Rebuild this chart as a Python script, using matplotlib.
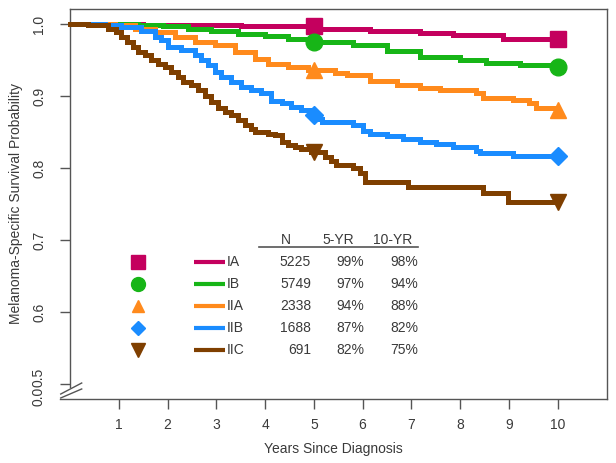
import numpy as np
import matplotlib
matplotlib.use("Agg")
import matplotlib.pyplot as plt
from matplotlib.lines import Line2D

plt.rcParams['font.family'] = ['Liberation Sans', 'DejaVu Sans']

# ---------------- data ----------------
stages = ["IA", "IB", "IIA", "IIB", "IIC"]
n_patients = [5225, 5749, 2338, 1688, 691]
surv_5yr = ["99%", "97%", "94%", "87%", "82%"]
surv_10yr = ["98%", "94%", "88%", "82%", "75%"]

t_IA = [0, 1.5, 2.5, 3.5, 4.3, 5.12, 6.15, 7.17, 7.85, 8.88, 10.0]
s_IA = [1.0, 0.9995, 0.999, 0.998, 0.997, 0.994, 0.991, 0.988, 0.985, 0.979, 0.979]

t_IB = [0, 1.39, 1.9, 2.42, 2.9, 3.45, 4.0, 4.47, 4.95, 5.8, 6.49, 7.17, 7.99, 8.53, 9.22, 9.9, 10.0]
s_IB = [1.0, 0.9995, 0.997, 0.994, 0.991, 0.987, 0.984, 0.980, 0.975, 0.971, 0.963, 0.955,
        0.950, 0.946, 0.944, 0.942, 0.940]

t_IIA = [0, 0.92, 1.33, 1.74, 2.15, 2.56, 2.97, 3.38, 3.79, 4.06, 4.47, 4.88, 5.43, 5.67, 6.15,
         6.70, 7.17, 7.58, 8.33, 8.47, 9.08, 9.42, 9.56, 10.0]
s_IIA = [1.0, 0.999, 0.994, 0.989, 0.982, 0.975, 0.971, 0.962, 0.952, 0.945, 0.941, 0.936,
         0.932, 0.929, 0.921, 0.915, 0.911, 0.908, 0.904, 0.898, 0.895, 0.890, 0.884, 0.881]

t_IIB = [0, 0.71, 1.05, 1.46, 1.74, 1.87, 2.01, 2.28, 2.56, 2.69, 2.83, 2.97, 3.10, 3.31, 3.51,
         3.72, 3.92, 4.13, 4.34, 4.54, 4.74, 4.95, 5.09, 5.16, 5.80, 6.01, 6.15, 6.49, 6.83, 7.17,
         7.51, 7.85, 8.33, 8.40, 9.08, 10.0]
s_IIB = [1.0, 0.999, 0.996, 0.991, 0.982, 0.978, 0.968, 0.964, 0.957, 0.950, 0.943, 0.934,
         0.927, 0.920, 0.913, 0.908, 0.904, 0.894, 0.890, 0.885, 0.881, 0.874, 0.869, 0.864,
         0.860, 0.851, 0.848, 0.845, 0.840, 0.836, 0.833, 0.830, 0.824, 0.821, 0.817, 0.817]

t_IIC = [0, 0.37, 0.78, 0.95, 1.05, 1.16, 1.29, 1.39, 1.53, 1.67, 1.80, 1.94, 2.08, 2.21, 2.32,
         2.49, 2.63, 2.76, 2.90, 3.03, 3.17, 3.31, 3.45, 3.58, 3.72, 3.79, 4.06, 4.20, 4.34, 4.47,
         4.61, 4.74, 4.95, 5.09, 5.22, 5.36, 5.46, 5.80, 5.94, 6.04, 6.93, 8.47, 8.98, 10.0]
s_IIC = [1.0, 0.9986, 0.994, 0.989, 0.982, 0.975, 0.968, 0.962, 0.957, 0.950, 0.945, 0.941,
         0.934, 0.927, 0.920, 0.915, 0.908, 0.901, 0.892, 0.883, 0.878, 0.874, 0.867, 0.860,
         0.855, 0.850, 0.848, 0.846, 0.837, 0.832, 0.830, 0.827, 0.823, 0.822, 0.816, 0.810,
         0.804, 0.800, 0.793, 0.781, 0.774, 0.765, 0.753, 0.753]

times = [t_IA, t_IB, t_IIA, t_IIB, t_IIC]
survs = [s_IA, s_IB, s_IIA, s_IIB, s_IIC]
colors = ["#C4005E", "#17B517", "#FF8A1C", "#1A8CFF", "#7F3F00"]
markers = ["s", "o", "^", "D", "v"]
msizes = [12, 12, 12, 9, 12]
leg_msizes = [10, 10, 9, 7, 10]
x_ticks = [1, 2, 3, 4, 5, 6, 7, 8, 9, 10]
y_ticks = [0.5, 0.6, 0.7, 0.8, 0.9, 1.0]

TXT = "#3a3a3a"
AX = "#555555"

W, H = 616, 463
fig = plt.figure(figsize=(W / 100, H / 100), dpi=100)
ax = fig.add_axes([60 / W, 1 - 399 / H, 547 / W, 390 / H])

YBOT = 0.5 - 15 / 720
ax.set_xlim(-10 / 48.77, 537 / 48.77)
ax.set_ylim(YBOT, 1.0 + 15.3 / 720)


def step_val(t, s, x):
    i = np.searchsorted(t, x, side="right") - 1
    return s[max(i, 0)]


for t, s, c, m, ms in zip(times, survs, colors, markers, msizes):
    ax.step(t, s, where="post", color=c, lw=3.6, solid_joinstyle="miter", zorder=3)
    for xm in (5, 10):
        ax.plot([xm], [step_val(t, s, xm)], marker=m, ms=ms, color=c, mec=c, ls="none",
                zorder=4, clip_on=False)

# spines
for sp in ["top", "right", "bottom", "left"]:
    ax.spines[sp].set_color(AX)
    ax.spines[sp].set_linewidth(1.0)
ax.spines["left"].set_position(("data", 0))
ax.spines["left"].set_bounds(0.4955, ax.get_ylim()[1])
ax.spines["top"].set_visible(False)
ax.plot([0, ax.get_xlim()[1]], [ax.get_ylim()[1]] * 2, color=AX, lw=1.0, clip_on=False,
        zorder=5)

# axis break marks
ax.plot([-0.19, 0.24], [0.4861, 0.5014], color=AX, lw=1.0, clip_on=False, zorder=5)
ax.plot([-0.19, 0.24], [0.4806, 0.4931], color=AX, lw=1.0, clip_on=False, zorder=5)

ax.set_xticks(x_ticks)
ax.set_xticklabels([str(v) for v in x_ticks])
ax.set_yticks(y_ticks)
ax.set_yticklabels([""] + [f"{v:.1f}" for v in y_ticks[1:]], rotation=90, va="center")
ax.tick_params(axis="both", colors=AX, labelcolor=TXT, labelsize=10, length=7, width=1.0,
               direction="out")
ax.tick_params(axis="y", pad=10)
ax.tick_params(axis="x", pad=7)
ax.text(-0.64, 0.5 + 7 / 720, f"{y_ticks[0]:.1f}", rotation=90, ha="center", va="center",
        fontsize=10, color=TXT, clip_on=False)
ax.text(-0.64, 0.5 - 12 / 720, "0.0", rotation=90, ha="center", va="center", fontsize=10,
        color=TXT, clip_on=False)

ax.set_xlabel("Years Since Diagnosis", fontsize=10, color=TXT, labelpad=7)
ax.set_ylabel("Melanoma-Specific Survival Probability", fontsize=10, color=TXT, labelpad=7)

# ---- legend table ----
def fx(px):
    return px / W


def fy(py):
    return 1 - py / H


row_y = [262, 284, 306, 328, 350]
fig.text(fx(286), fy(240), "N", ha="center", va="center", fontsize=10, color=TXT)
fig.text(fx(338), fy(240), "5-YR", ha="center", va="center", fontsize=10, color=TXT)
fig.text(fx(393), fy(240), "10-YR", ha="center", va="center", fontsize=10, color=TXT)
fig.add_artist(Line2D([fx(259), fx(418)], [fy(247), fy(247)], color="#555555", lw=1.2,
                      transform=fig.transFigure))
for i, ry in enumerate(row_y):
    fig.add_artist(Line2D([fx(138)], [fy(ry)], marker=markers[i], ms=leg_msizes[i],
                          color=colors[i], ls="none", transform=fig.transFigure))
    fig.add_artist(Line2D([fx(194), fx(225)], [fy(ry), fy(ry)], color=colors[i], lw=3.0,
                          solid_capstyle="butt", transform=fig.transFigure))
    fig.text(fx(227), fy(ry), stages[i], ha="left", va="center", fontsize=10, color=TXT)
    fig.text(fx(311), fy(ry), str(n_patients[i]), ha="right", va="center", fontsize=10, color=TXT)
    fig.text(fx(364), fy(ry), surv_5yr[i], ha="right", va="center", fontsize=10, color=TXT)
    fig.text(fx(418), fy(ry), surv_10yr[i], ha="right", va="center", fontsize=10, color=TXT)

fig.savefig("out.png", dpi=100)
